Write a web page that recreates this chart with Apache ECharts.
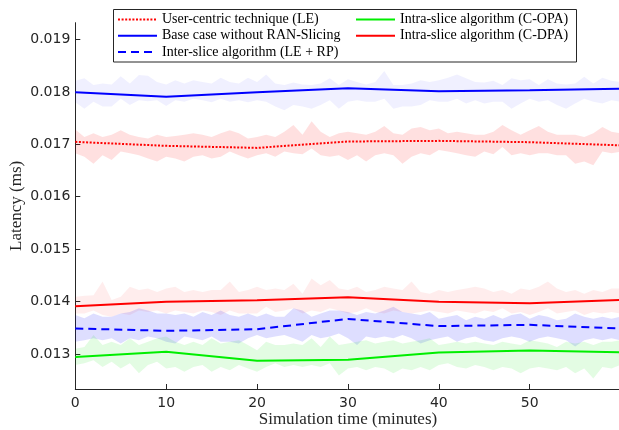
<!DOCTYPE html>
<html>
<head>
<meta charset="utf-8">
<script src="https://cdn.jsdelivr.net/npm/echarts@6/dist/echarts.min.js"></script>
<style>
  html, body { margin: 0; padding: 0; background: #fff; }
  #main { width: 619px; height: 430px; }
</style>
</head>
<body>
<div id="main"></div>
<script>
// x positions of the sampled runs (minutes)
const minutes = [0,1,2,3,4,5,6,7,8,9,10,11,12,13,14,15,16,17,18,19,20,21,22,23,24,25,26,27,28,29,30,
  31,32,33,34,35,36,37,38,39,40,41,42,43,44,45,46,47,48,49,50,51,52,53,54,55,56,57,58,59,60]
// mean curves, one point every 10 min
const meanTime = [0, 10, 20, 30, 40, 50, 60]
const leMean = [0.017046, 0.01697, 0.016931, 0.017053, 0.017065, 0.01704, 0.01698]
const baseMean = [0.017995, 0.017905, 0.017995, 0.01807, 0.01801, 0.01803, 0.01806]
const interMean = [0.013485, 0.01344, 0.01347, 0.013668, 0.01353, 0.013554, 0.013485]
const opaMean = [0.012943, 0.01304, 0.012867, 0.012886, 0.013027, 0.013065, 0.01303]
const dpaMean = [0.01391, 0.013993, 0.014025, 0.014082, 0.013993, 0.013968, 0.01403]

// spread of the runs (upper / lower envelopes)
const baseUpper = [0.01821,0.01826,0.01813,0.01816,0.01814,0.01830,0.01816,0.01832,0.01831,0.01819,0.01814,0.01822,0.01816,0.01822,0.01819,0.01816,0.01827,0.01819,0.01816,0.01827,
  0.01819,0.01833,0.01816,0.01813,0.01818,0.01814,0.01813,0.01816,0.01826,0.01813,0.01824,0.01819,0.01814,0.01819,0.01840,0.01813,0.01813,0.01816,0.01822,0.01819,
  0.01822,0.01827,0.01833,0.01826,0.01819,0.01818,0.01821,0.01813,0.01826,0.01822,0.01824,0.01813,0.01824,0.01816,0.01814,0.01816,0.01829,0.01816,0.01827,0.01821,0.01819]
const baseLower = [0.01780,0.01768,0.01781,0.01772,0.01772,0.01787,0.01775,0.01784,0.01782,0.01784,0.01773,0.01784,0.01781,0.01787,0.01784,0.01780,0.01787,0.01781,0.01784,0.01780,
  0.01784,0.01781,0.01772,0.01765,0.01775,0.01772,0.01768,0.01775,0.01784,0.01768,0.01781,0.01784,0.01781,0.01781,0.01787,0.01768,0.01772,0.01772,0.01775,0.01784,
  0.01781,0.01781,0.01787,0.01778,0.01784,0.01778,0.01781,0.01781,0.01768,0.01778,0.01787,0.01781,0.01784,0.01775,0.01768,0.01778,0.01787,0.01781,0.01778,0.01784,0.01781]
const leUpper = [0.01728,0.01714,0.01721,0.01714,0.01718,0.01727,0.01718,0.01714,0.01711,0.01718,0.01714,0.01716,0.01718,0.01721,0.01718,0.01714,0.01721,0.01727,0.01721,0.01711,
  0.01714,0.01718,0.01714,0.01724,0.01737,0.01718,0.01744,0.01724,0.01714,0.01721,0.01724,0.01721,0.01718,0.01724,0.01735,0.01721,0.01718,0.01730,0.01733,0.01727,
  0.01730,0.01721,0.01724,0.01721,0.01718,0.01718,0.01724,0.01737,0.01727,0.01718,0.01727,0.01735,0.01724,0.01718,0.01718,0.01718,0.01714,0.01721,0.01733,0.01724,0.01721]
const leLower = [0.01683,0.01676,0.01663,0.01679,0.01670,0.01686,0.01683,0.01679,0.01673,0.01667,0.01676,0.01673,0.01667,0.01676,0.01679,0.01673,0.01676,0.01686,0.01679,0.01673,
  0.01679,0.01683,0.01676,0.01686,0.01683,0.01681,0.01692,0.01679,0.01676,0.01679,0.01670,0.01679,0.01667,0.01679,0.01683,0.01679,0.01663,0.01676,0.01683,0.01679,
  0.01689,0.01686,0.01683,0.01679,0.01676,0.01686,0.01681,0.01695,0.01679,0.01683,0.01679,0.01683,0.01683,0.01679,0.01679,0.01663,0.01667,0.01660,0.01686,0.01683,0.01686]
const dpaUpper = [0.01409,0.01411,0.01412,0.01438,0.01403,0.01409,0.01428,0.01422,0.01425,0.01418,0.01425,0.01428,0.01418,0.01422,0.01418,0.01422,0.01422,0.01438,0.01418,0.01422,
  0.01428,0.01422,0.01425,0.01422,0.01434,0.01415,0.01444,0.01431,0.01441,0.01425,0.01422,0.01428,0.01418,0.01422,0.01428,0.01425,0.01422,0.01438,0.01418,0.01415,
  0.01422,0.01418,0.01422,0.01425,0.01428,0.01425,0.01418,0.01422,0.01415,0.01425,0.01422,0.01428,0.01438,0.01425,0.01418,0.01422,0.01415,0.01422,0.01418,0.01425,0.01425]
const dpaLower = [0.01377,0.01377,0.01383,0.01374,0.01371,0.01377,0.01374,0.01383,0.01380,0.01383,0.01377,0.01383,0.01380,0.01377,0.01383,0.01380,0.01374,0.01383,0.01377,0.01377,
  0.01377,0.01390,0.01380,0.01383,0.01387,0.01377,0.01383,0.01380,0.01387,0.01383,0.01377,0.01380,0.01387,0.01380,0.01377,0.01383,0.01380,0.01377,0.01380,0.01383,
  0.01380,0.01377,0.01383,0.01380,0.01377,0.01383,0.01380,0.01387,0.01377,0.01380,0.01374,0.01380,0.01387,0.01377,0.01380,0.01383,0.01374,0.01380,0.01377,0.01380,0.01377]
const interUpper = [0.01374,0.01368,0.01377,0.01371,0.01371,0.01377,0.01380,0.01387,0.01383,0.01377,0.01377,0.01374,0.01377,0.01371,0.01380,0.01374,0.01383,0.01374,0.01371,0.01377,
  0.01371,0.01377,0.01371,0.01371,0.01387,0.01383,0.01371,0.01377,0.01383,0.01383,0.01380,0.01374,0.01380,0.01377,0.01383,0.01390,0.01380,0.01377,0.01374,0.01380,
  0.01367,0.01371,0.01374,0.01364,0.01371,0.01367,0.01374,0.01367,0.01374,0.01377,0.01367,0.01374,0.01371,0.01364,0.01367,0.01377,0.01371,0.01367,0.01371,0.01367,0.01371]
const interLower = [0.01323,0.01326,0.01330,0.01326,0.01330,0.01320,0.01330,0.01326,0.01333,0.01330,0.01323,0.01320,0.01333,0.01330,0.01326,0.01333,0.01323,0.01323,0.01320,0.01330,
  0.01336,0.01330,0.01333,0.01336,0.01330,0.01323,0.01336,0.01330,0.01333,0.01339,0.01330,0.01317,0.01333,0.01330,0.01333,0.01330,0.01336,0.01330,0.01320,0.01326,
  0.01330,0.01333,0.01323,0.01330,0.01333,0.01326,0.01323,0.01330,0.01333,0.01330,0.01323,0.01330,0.01333,0.01330,0.01326,0.01314,0.01326,0.01330,0.01326,0.01330,0.01326]
const opaUpper = [0.01310,0.01313,0.01336,0.01317,0.01323,0.01317,0.01330,0.01317,0.01323,0.01330,0.01333,0.01323,0.01317,0.01323,0.01317,0.01330,0.01320,0.01323,0.01326,0.01317,
  0.01307,0.01323,0.01317,0.01317,0.01320,0.01317,0.01330,0.01313,0.01333,0.01317,0.01320,0.01323,0.01326,0.01320,0.01323,0.01326,0.01320,0.01323,0.01326,0.01330,
  0.01317,0.01320,0.01323,0.01320,0.01323,0.01320,0.01317,0.01323,0.01320,0.01317,0.01326,0.01323,0.01320,0.01313,0.01323,0.01320,0.01323,0.01317,0.01323,0.01323,0.01326]
const opaLower = [0.01279,0.01282,0.01288,0.01275,0.01285,0.01272,0.01282,0.01263,0.01279,0.01285,0.01272,0.01275,0.01266,0.01275,0.01279,0.01266,0.01275,0.01269,0.01279,0.01272,
  0.01266,0.01275,0.01282,0.01275,0.01279,0.01275,0.01279,0.01275,0.01282,0.01259,0.01272,0.01275,0.01269,0.01275,0.01272,0.01263,0.01272,0.01269,0.01275,0.01269,
  0.01279,0.01282,0.01275,0.01272,0.01279,0.01275,0.01269,0.01275,0.01272,0.01263,0.01272,0.01275,0.01272,0.01269,0.01275,0.01263,0.01272,0.01253,0.01275,0.01272,0.01279]

const yTicks = [0.013, 0.014, 0.015, 0.016, 0.017, 0.018, 0.019]
const xTicks = [0, 10, 20, 30, 40, 50]

const axisColor = '#262626'
const serif = 'Liberation Serif'

const chart = echarts.init(document.getElementById('main'), null, { renderer: 'canvas' })

// shaded band drawn as one polygon: upper edge then lower edge backwards
function band (name, upper, lower, color) {
  return {
    type: 'custom',
    name: name,
    silent: true,
    clip: true,
    z: 1,
    data: [[0, upper[0]]],
    renderItem: (params, api) => {
      const pts = []
      for (let i = 0; i < minutes.length; i++) {
        pts.push(api.coord([minutes[i], upper[i]]))
      }
      for (let i = minutes.length - 1; i >= 0; i--) {
        pts.push(api.coord([minutes[i], lower[i]]))
      }
      return { type: 'polygon', shape: { points: pts }, style: { fill: color } }
    }
  }
}

function meanLine (name, values, color, type) {
  return {
    type: 'line',
    name: name,
    symbol: 'none',
    z: 3,
    data: meanTime.map((t, i) => [t, values[i]]),
    lineStyle: { color: color, width: 2, type: type },
    itemStyle: { color: color }
  }
}

const legendText = { fontFamily: serif, fontSize: 14, lineHeight: 14, color: '#000' }

const option = {
  animation: false,
  backgroundColor: '#fff',
  grid: { left: 75.3, right: -1.6, top: 22.7, bottom: 41, outerBoundsMode: 'none', containLabel: false },
  xAxis: {
    type: 'value',
    min: 0,
    max: 60,
    name: 'Simulation time (minutes)',
    nameLocation: 'middle',
    nameGap: 22,
    nameMoveOverlap: false,
    nameTextStyle: { fontFamily: serif, fontSize: 17, color: axisColor },
    axisLine: { lineStyle: { color: axisColor, width: 1 } },
    axisTick: { inside: true, length: 5, lineStyle: { color: axisColor }, customValues: xTicks },
    axisLabel: { fontFamily: 'DejaVu Sans', fontSize: 14, color: axisColor, margin: 7, customValues: xTicks },
    splitLine: { show: false }
  },
  yAxis: {
    type: 'value',
    min: 0.01233,
    max: 0.01932,
    name: 'Latency (ms)',
    nameLocation: 'middle',
    nameGap: 50,
    nameMoveOverlap: false,
    nameTextStyle: { fontFamily: serif, fontSize: 17, color: axisColor },
    axisLine: { show: true, lineStyle: { color: axisColor, width: 1 } },
    axisTick: { show: true, inside: true, length: 5, lineStyle: { color: axisColor }, customValues: yTicks },
    axisLabel: { fontFamily: 'DejaVu Sans', fontSize: 14, color: axisColor, margin: 5, customValues: yTicks },
    splitLine: { show: false }
  },
  // legend box frame
  graphic: [{
    type: 'rect',
    z: 3,
    shape: { x: 113.5, y: 9.5, width: 463, height: 52.5 },
    style: { fill: '#fff', stroke: axisColor, lineWidth: 1 }
  }],
  legend: [
    {
      orient: 'vertical',
      left: 117,
      top: 12.5,
      padding: 0,
      itemWidth: 39,
      itemHeight: 14,
      itemGap: 2.3,
      itemStyle: { opacity: 0 },
      textStyle: legendText,
      data: ['User-centric technique (LE)', 'Base case without RAN-Slicing', 'Inter-slice algorithm (LE + RP)']
    },
    {
      orient: 'vertical',
      left: 355,
      top: 12.5,
      padding: 0,
      itemWidth: 39,
      itemHeight: 14,
      itemGap: 2.3,
      itemStyle: { opacity: 0 },
      textStyle: legendText,
      data: ['Intra-slice algorithm (C-OPA)', 'Intra-slice algorithm (C-DPA)']
    }
  ],
  series: [
    band('base band', baseUpper, baseLower, 'rgba(0,0,255,0.06)'),
    band('le band', leUpper, leLower, 'rgba(255,0,0,0.12)'),
    band('dpa band', dpaUpper, dpaLower, 'rgba(255,0,0,0.07)'),
    band('inter band', interUpper, interLower, 'rgba(0,0,255,0.13)'),
    band('opa band', opaUpper, opaLower, 'rgba(0,230,0,0.11)'),
    meanLine('User-centric technique (LE)', leMean, '#ff0000', [2, 1.6]),
    meanLine('Base case without RAN-Slicing', baseMean, '#0000ff', 'solid'),
    meanLine('Inter-slice algorithm (LE + RP)', interMean, '#0000ff', [8, 5]),
    meanLine('Intra-slice algorithm (C-OPA)', opaMean, '#00ee00', 'solid'),
    meanLine('Intra-slice algorithm (C-DPA)', dpaMean, '#ff0000', 'solid')
  ]
}

chart.setOption(option)
</script>
</body>
</html>
